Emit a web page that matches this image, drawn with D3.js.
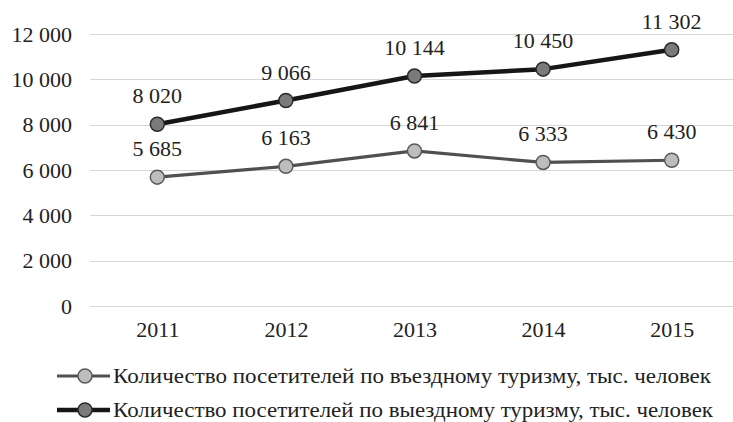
<!DOCTYPE html>
<html>
<head>
<meta charset="utf-8">
<script src="https://cdn.jsdelivr.net/npm/d3@7"></script>
<style>
  body { margin: 0; background: #fff; }
  svg text { font-family: "Liberation Serif", "Tinos", "Times New Roman", "DejaVu Serif", serif !important; fill: #222; }
</style>
</head>
<body>
<svg id="chart"></svg>
<script>
const width = 733, height = 422;

const years = ["2011", "2012", "2013", "2014", "2015"];
const inbound = [5685, 6163, 6841, 6333, 6430];
const outbound = [8020, 9066, 10144, 10450, 11302];
const yTicks = [0, 2000, 4000, 6000, 8000, 10000, 12000];
const seriesNames = [
    "Количество посетителей по въездному туризму, тыс. человек",
    "Количество посетителей по выездному туризму, тыс. человек"
];

const margin = { top: 34, left: 93, right: -3, bottom: 116 };
const fontSize = 22;

const svg = d3.select("svg#chart")
    .attr("width", width)
    .attr("height", height);

const x = d3.scalePoint()
    .domain(years)
    .range([margin.left, width - margin.right])
    .padding(0.5);

const y = d3.scaleLinear()
    .domain([0, 12000])
    .range([height - margin.bottom, margin.top]);

const fmt = v => d3.format(",")(v).replace(/,/g, " ");

// grid lines
svg.append("g")
    .selectAll("line")
    .data(yTicks)
    .enter()
    .append("line")
    .attr("x1", margin.left - 3)
    .attr("x2", width)
    .attr("y1", d => Math.round(y(d)) + 0.5)
    .attr("y2", d => Math.round(y(d)) + 0.5)
    .attr("stroke", "#d6d6d6")
    .attr("stroke-width", 1.2);

// y axis labels
const yAxis = svg.append("g")
    .attr("transform", `translate(${margin.left - 21},0)`)
    .call(d3.axisLeft(y).tickValues(yTicks).tickSize(0).tickPadding(0).tickFormat(fmt));
yAxis.attr("font-family", null);
yAxis.select(".domain").remove();
yAxis.selectAll("text")
    .attr("font-size", fontSize)
    .attr("fill", "#222");

// x axis labels
const xAxis = svg.append("g")
    .attr("transform", `translate(0,${height - margin.bottom + 15})`)
    .call(d3.axisBottom(x).tickSize(0).tickPadding(0));
xAxis.attr("font-family", null);
xAxis.select(".domain").remove();
xAxis.selectAll("text")
    .attr("font-size", fontSize)
    .attr("fill", "#222");

const series = [
    { name: seriesNames[0], values: inbound, line: "#505050", lw: 3.2, fill: "#bdbdbd", stroke: "#5a5a5a" },
    { name: seriesNames[1], values: outbound, line: "#161616", lw: 4.5, fill: "#7a7a7a", stroke: "#2a2a2a" }
];

const line = d3.line()
    .x((d, i) => x(years[i]))
    .y(d => y(d));

const sg = svg.selectAll("g.series")
    .data(series)
    .enter()
    .append("g")
    .classed("series", true);

sg.append("path")
    .attr("d", d => line(d.values))
    .attr("fill", "none")
    .attr("stroke", d => d.line)
    .attr("stroke-width", d => d.lw)
    .attr("stroke-linejoin", "round");

sg.each(function (s) {
    const g = d3.select(this);
    g.selectAll("circle")
        .data(s.values)
        .enter()
        .append("circle")
        .attr("cx", (d, i) => x(years[i]))
        .attr("cy", d => y(d))
        .attr("r", 7)
        .attr("fill", s.fill)
        .attr("stroke", s.stroke)
        .attr("stroke-width", 1.5);
    g.selectAll("text.lbl")
        .data(s.values)
        .enter()
        .append("text")
        .classed("lbl", true)
        .attr("x", (d, i) => x(years[i]))
        .attr("y", d => y(d) - 21)
        .attr("text-anchor", "middle")
        .attr("font-size", fontSize)
        .text(fmt);
});

// legend
const legend = svg.append("g")
    .selectAll("g")
    .data(series)
    .enter()
    .append("g")
    .attr("transform", (d, i) => `translate(0,${376 + i * 34})`);
legend.append("line")
    .attr("x1", 57).attr("x2", 110)
    .attr("stroke", d => d.line)
    .attr("stroke-width", d => d.lw);
legend.append("circle")
    .attr("cx", 85)
    .attr("r", 7)
    .attr("fill", d => d.fill)
    .attr("stroke", d => d.stroke)
    .attr("stroke-width", 1.5);
legend.append("text")
    .attr("x", 113)
    .attr("y", 7)
    .attr("font-size", fontSize)
    .attr("textLength", (d, i) => i === 0 ? 598 : 600)
    .attr("lengthAdjust", "spacingAndGlyphs")
    .text(d => d.name);
</script>
</body>
</html>
